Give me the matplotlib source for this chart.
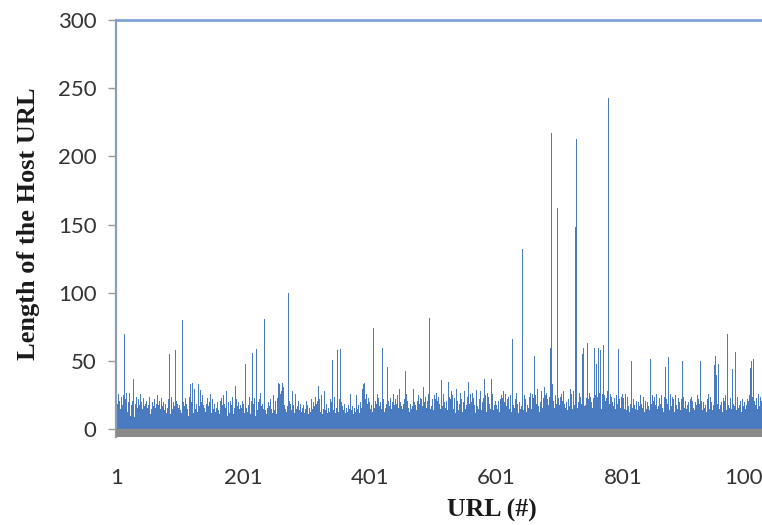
import numpy as np
import matplotlib.pyplot as plt

# host URL lengths in blocks of 100 URLs
len_001_100 = [17, 12, 19, 26, 14, 21, 9, 15, 24, 13,
               18, 25, 11, 70, 22, 16, 27, 52, 13, 20,
               14, 27, 10, 25, 18, 12, 21, 37, 15, 9,
               19, 13, 24, 16, 11, 22, 14, 18, 26, 12,
               20, 15, 10, 23, 17, 13, 19, 8, 21, 16,
               12, 18, 24, 14, 11, 32, 15, 20, 13, 17,
               22, 10, 16, 19, 12, 25, 14, 18, 21, 11,
               15, 23, 13, 17, 20, 26, 14, 48, 19, 12,
               28, 16, 22, 13, 55, 18, 11, 24, 56, 15,
               20, 12, 17, 58, 14, 21, 10, 19, 16, 13]
len_101_200 = [18, 14, 21, 12, 80, 16, 20, 11, 17, 23,
               13, 19, 15, 22, 10, 18, 24, 33, 14, 20,
               34, 16, 12, 30, 21, 15, 34, 19, 13, 22,
               33, 17, 11, 29, 20, 14, 25, 12, 18, 16,
               21, 13, 19, 15, 23, 10, 17, 20, 14, 26,
               12, 18, 22, 15, 11, 19, 24, 13, 16, 37,
               20, 14, 17, 11, 21, 15, 23, 12, 18, 25,
               13, 19, 16, 22, 28, 14, 10, 20, 17, 12,
               21, 15, 18, 24, 13, 11, 19, 16, 32, 14,
               22, 17, 12, 20, 15, 23, 18, 13, 16, 21]
len_201_300 = [15, 19, 12, 22, 48, 16, 20, 13, 52, 18,
               24, 14, 11, 21, 17, 56, 12, 19, 23, 15,
               10, 59, 18, 14, 20, 16, 22, 13, 27, 17,
               12, 19, 15, 21, 81, 14, 18, 11, 24, 16,
               20, 13, 17, 22, 30, 15, 19, 12, 25, 18,
               14, 21, 16, 11, 23, 19, 34, 30, 33, 26,
               32, 28, 34, 24, 31, 18, 22, 15, 20, 13,
               17, 24, 100, 21, 16, 19, 76, 14, 28, 22,
               18, 12, 20, 26, 15, 23, 17, 11, 21, 14,
               37, 19, 13, 22, 16, 18, 24, 12, 20, 15]
len_301_400 = [21, 14, 18, 11, 23, 16, 19, 13, 22, 26,
               15, 20, 12, 17, 24, 14, 19, 10, 21, 32,
               16, 22, 13, 18, 25, 11, 20, 15, 17, 28,
               14, 21, 19, 12, 23, 16, 18, 13, 22, 15,
               20, 51, 17, 14, 24, 19, 12, 21, 16, 58,
               18, 13, 22, 15, 59, 20, 11, 17, 24, 14,
               19, 23, 12, 16, 21, 13, 81, 18, 15, 22,
               26, 14, 20, 17, 11, 23, 16, 19, 13, 25,
               21, 15, 18, 24, 12, 20, 27, 16, 34, 30,
               33, 28, 34, 22, 31, 26, 34, 19, 23, 17]
len_401_500 = [20, 15, 24, 18, 13, 22, 74, 65, 16, 21,
               12, 19, 26, 14, 23, 17, 11, 20, 25, 15,
               60, 18, 22, 13, 28, 16, 19, 24, 46, 14,
               21, 17, 12, 23, 15, 36, 20, 13, 26, 18,
               14, 22, 19, 11, 25, 16, 21, 30, 13, 20,
               17, 24, 15, 19, 12, 22, 43, 18, 26, 14,
               21, 16, 23, 13, 19, 27, 15, 22, 17, 30,
               12, 20, 18, 24, 14, 21, 16, 25, 13, 19,
               23, 15, 22, 17, 28, 31, 20, 14, 24, 18,
               16, 21, 13, 26, 82, 19, 15, 23, 17, 22]
len_501_600 = [20, 14, 25, 18, 22, 27, 16, 21, 13, 24,
               19, 28, 15, 36, 22, 17, 26, 12, 20, 23,
               16, 21, 27, 14, 35, 19, 24, 13, 22, 28,
               17, 25, 15, 20, 23, 12, 26, 30, 18, 21,
               14, 24, 19, 27, 16, 22, 13, 25, 20, 17,
               28, 15, 21, 18, 24, 14, 35, 22, 19, 26,
               13, 20, 27, 16, 23, 18, 25, 12, 21, 29,
               17, 24, 15, 22, 19, 28, 14, 26, 20, 16,
               23, 37, 18, 25, 13, 21, 27, 16, 24, 19,
               22, 15, 37, 20, 26, 14, 23, 18, 30, 21]
len_601_700 = [18, 24, 15, 21, 27, 13, 22, 19, 25, 16,
               23, 28, 14, 20, 26, 28, 17, 22, 12, 24,
               19, 15, 25, 21, 13, 66, 38, 18, 23, 16,
               22, 14, 27, 19, 24, 12, 20, 26, 15, 21,
               17, 132, 23, 14, 25, 19, 22, 13, 28, 18,
               54, 16, 24, 20, 27, 15, 21, 26, 18, 23,
               54, 14, 25, 19, 22, 30, 17, 26, 13, 24,
               20, 28, 30, 16, 23, 19, 31, 25, 14, 27,
               62, 22, 18, 29, 24, 60, 137, 217, 26, 33,
               21, 28, 16, 25, 30, 19, 162, 125, 23, 27]
len_701_800 = [18, 24, 15, 26, 21, 13, 28, 19, 23, 16,
               25, 20, 14, 27, 22, 17, 24, 30, 19, 26,
               15, 21, 28, 18, 23, 148, 213, 25, 16, 22,
               20, 27, 14, 24, 19, 26, 55, 60, 21, 17,
               25, 18, 23, 15, 63, 22, 19, 27, 14, 24,
               20, 26, 16, 23, 18, 60, 25, 21, 48, 17,
               24, 60, 19, 27, 58, 22, 15, 26, 20, 62,
               18, 25, 21, 14, 23, 28, 60, 243, 22, 19,
               26, 16, 24, 20, 30, 17, 23, 27, 15, 21,
               25, 19, 95, 59, 22, 28, 16, 24, 20, 26]
len_801_900 = [18, 23, 15, 21, 26, 14, 20, 24, 17, 22,
               13, 45, 19, 50, 57, 16, 22, 54, 18, 24,
               15, 21, 27, 14, 20, 23, 17, 25, 12, 19,
               22, 16, 24, 18, 13, 21, 26, 15, 20, 23,
               17, 45, 14, 52, 57, 19, 25, 16, 21, 13,
               24, 18, 20, 26, 15, 22, 17, 23, 14, 19,
               21, 25, 16, 20, 13, 24, 40, 46, 22, 15,
               19, 57, 53, 14, 21, 26, 17, 20, 24, 16,
               22, 13, 19, 25, 18, 21, 15, 23, 17, 20,
               26, 14, 22, 44, 50, 24, 52, 16, 21, 19]
len_901_1000 = [15, 23, 18, 20, 25, 13, 22, 17, 24, 19,
                21, 16, 26, 14, 20, 23, 18, 25, 15, 22,
                44, 19, 50, 52, 21, 14, 24, 20, 16, 23,
                18, 25, 13, 22, 19, 26, 15, 21, 24, 17,
                20, 14, 23, 18, 47, 25, 54, 40, 21, 19,
                56, 48, 15, 24, 18, 20, 26, 13, 23, 17,
                21, 19, 25, 14, 22, 70, 18, 24, 16, 20,
                23, 15, 21, 44, 19, 50, 17, 57, 22, 14,
                20, 24, 16, 23, 18, 21, 25, 13, 22, 19,
                17, 24, 20, 15, 26, 18, 22, 14, 21, 25]
len_1001_1020 = [17, 45, 22, 50, 24, 57, 52, 21, 25, 18,
                 20, 23, 15, 22, 26, 17, 19, 24, 21, 16]

xtick_labels = ['1', '201', '401', '601', '801', '1001']

lengths = (len_001_100 + len_101_200 + len_201_300 + len_301_400 + len_401_500
           + len_501_600 + len_601_700 + len_701_800 + len_801_900
           + len_901_1000 + len_1001_1020)
url_no = np.arange(1, len(lengths) + 1)

fig = plt.figure(figsize=(7.62, 5.25), dpi=100)
ax = fig.add_axes([116/762, 88/525, 646/762, 417/525])

ax.bar(url_no, lengths, width=1.0, color='#4a7bc0', linewidth=0)
# grey floor under the bars
ax.axhspan(-5.5, 0, color='#8a8a8a', zorder=3)

ax.set_xlim(0.5, 0.5 + 646/0.6335)
ax.set_ylim(-5.5, 300)
ax.set_yticks(np.arange(0, 301, 50))
ax.set_xticks([int(t) for t in xtick_labels])
ax.set_xticklabels(xtick_labels)

ax.tick_params(axis='y', length=6, width=1, color='#999999', pad=8,
               labelsize=16, labelcolor='#333333')
ax.tick_params(axis='x', length=0, pad=22, labelsize=16, labelcolor='#333333')
for lab in ax.get_xticklabels() + ax.get_yticklabels():
    lab.set_family('Lato')

ax.spines['right'].set_visible(False)
ax.spines['bottom'].set_visible(False)
ax.spines['left'].set_color('#8d9db6')
ax.spines['left'].set_linewidth(1.6)
ax.spines['top'].set_color('#7ea3d6')
ax.spines['top'].set_linewidth(2)

fig.text(29/762, 1 - 224/525, 'Length of the Host URL', rotation=90,
         ha='center', va='center', fontsize=19, fontweight='bold',
         family='Liberation Serif', color='#1a1a1a')
fig.text(492/762, 1 - 510/525, 'URL (#)', ha='center', va='center',
         fontsize=18.5, fontweight='bold', family='Liberation Serif',
         color='#1a1a1a')

plt.savefig('out.png', dpi=100)
